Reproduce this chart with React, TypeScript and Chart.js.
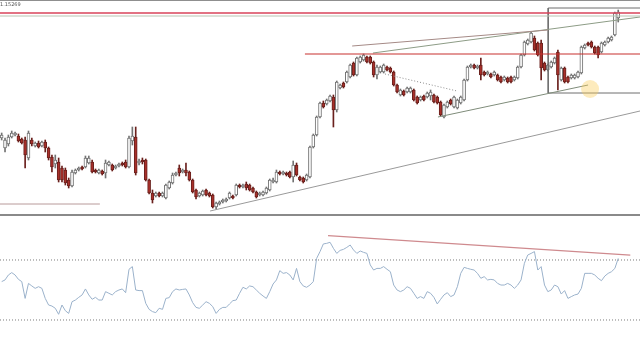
import React, { useEffect, useRef } from 'react';
import { Chart, registerables } from 'chart.js';

Chart.register(...registerables);

// Price values in pips above the pane floor (candles)
const OPEN = [
  76, 66, 70, 77, 79, 78, 75, 74, 56, 74,
  68, 71, 68, 72, 66, 57, 50, 52, 46, 44,
  34, 28, 41, 44, 47, 47, 51, 52, 44, 41,
  43, 41, 49, 49, 46, 48, 51, 52, 47, 73,
  77, 51, 54, 54, 34, 21, 18, 21, 18, 16,
  26, 31, 39, 46, 42, 44, 42, 34, 24, 18,
  19, 24, 21, 19, 7, 10, 12, 13, 16, 18,
  19, 29, 27, 30, 29, 26, 22, 19, 19, 21,
  24, 32, 32, 42, 40, 41, 42, 37, 49, 37,
  36, 34, 37, 67, 79, 97, 111, 110, 113, 117,
  104, 126, 131, 132, 137, 151, 139, 152, 154, 157,
  157, 152, 139, 142, 142, 147, 146, 142, 129, 119,
  123, 122, 122, 124, 117,
  114, 118, 117, 118, 119, 117, 112, 97, 107, 114,
  107, 106, 111, 114, 134, 147, 149, 146, 149, 142,
  140, 140, 139, 139, 137, 134, 136, 137, 134, 136,
  147, 159, 170, 172, 176, 171, 171, 151, 144, 147,
  151, 162, 134, 146, 137, 136, 136, 137, 141, 166,
  171, 172, 167, 167, 162, 169, 172, 174, 179, 196,
];
const CLOSE = [
  79, 74, 77, 81, 81, 73, 71, 59, 81, 70,
  71, 67, 72, 66, 56, 47, 54, 34, 34, 31,
  28, 42, 44, 46, 45, 56, 56, 42, 42, 44,
  40, 51, 52, 44, 48, 50, 49, 47, 76, 78,
  41, 53, 52, 34, 21, 14, 21, 18, 21, 29,
  32, 39, 41, 41, 44, 41, 34, 22, 17, 21,
  23, 19, 18, 7, 11, 12, 14, 15, 21, 16,
  29, 27, 29, 26, 24, 22, 17, 21, 22, 26,
  34, 34, 42, 40, 42, 39, 37, 49, 39, 34,
  32, 39, 67, 79, 97, 111, 107, 114, 118, 104,
  132, 129, 127, 142, 149, 139, 156, 157, 159, 152,
  151, 139, 147, 147, 149, 144, 142, 129, 122, 124,
  119, 126, 126, 114, 111,
  117, 114, 121, 122, 112, 111, 99, 109, 112, 110,
  117, 114, 117, 134, 147, 149, 146, 148, 139, 139,
  142, 137, 142, 134, 132, 137, 132, 132, 137, 147,
  159, 172, 174, 181, 164, 159, 146, 144, 149, 152,
  156, 139, 146, 132, 132, 139, 139, 142, 167, 169,
  169, 167, 161, 159, 171, 172, 176, 177, 201, 202,
];
const HIGH = [
  81, 76, 79, 83, 82, 80, 76, 77, 83, 76,
  72, 73, 73, 74, 67, 59, 59, 56, 48, 46,
  36, 44, 45, 47, 48, 58, 58, 54, 45, 45,
  44, 54, 53, 50, 49, 51, 52, 54, 78, 87,
  87, 55, 56, 55, 35, 24, 22, 22, 22, 30,
  33, 41, 42, 49, 45, 51, 43, 35, 25, 22,
  24, 25, 22, 20, 12, 13, 15, 16, 22, 19,
  30, 30, 30, 32, 30, 27, 23, 22, 23, 27,
  35, 36, 44, 43, 43, 42, 43, 53, 51, 38,
  37, 40, 68, 80, 98, 112, 113, 115, 119, 119,
  133, 130, 132, 143, 150, 152, 157, 158, 160, 158,
  158, 153, 149, 148, 150, 148, 147, 143, 130, 125,
  124, 127, 127, 125, 118,
  118, 119, 122, 124, 120, 118, 113, 110, 113, 115,
  118, 115, 118, 135, 148, 150, 150, 149, 156, 143,
  143, 141, 143, 140, 138, 138, 137, 138, 138, 148,
  160, 173, 175, 182, 178, 172, 174, 152, 150, 153,
  157, 164, 147, 147, 138, 140, 140, 143, 168, 170,
  172, 173, 168, 168, 172, 173, 177, 178, 202, 204,
];
const LOW = [
  74, 62, 68, 76, 78, 72, 70, 46, 54, 68,
  67, 66, 67, 62, 54, 42, 46, 32, 32, 29,
  26, 27, 40, 43, 44, 46, 50, 41, 41, 40,
  39, 36, 48, 43, 45, 47, 48, 46, 46, 69,
  39, 49, 50, 33, 20, 11, 17, 17, 17, 15,
  25, 30, 38, 38, 41, 38, 33, 21, 15, 17,
  18, 18, 17, 6, 5, 9, 11, 12, 15, 15,
  18, 26, 26, 24, 23, 21, 16, 18, 18, 20,
  23, 31, 31, 39, 39, 38, 36, 32, 38, 33,
  31, 33, 36, 66, 78, 96, 106, 109, 112, 87,
  102, 125, 126, 131, 136, 138, 138, 151, 153, 151,
  150, 137, 135, 141, 141, 143, 141, 128, 121, 118,
  118, 121, 121, 113, 110,
  113, 113, 116, 114, 111, 110, 98, 96, 106, 109,
  106, 105, 110, 113, 133, 146, 145, 145, 134, 138,
  139, 136, 138, 133, 131, 133, 131, 131, 133, 135,
  146, 158, 169, 171, 163, 158, 134, 143, 143, 146,
  150, 124, 133, 131, 131, 135, 135, 136, 140, 165,
  168, 166, 160, 156, 161, 168, 171, 173, 178, 192,
];
const RSI = [
  55.6, 56.7, 60.0, 61.6, 60.0, 57.1, 55.6, 44.4, 54.4, 52.7,
  51.1, 52.2, 51.1, 44.4, 40.0, 39.3, 37.8, 33.8, 40.0, 36.2,
  34.4, 42.2, 43.3, 45.1, 46.7, 50.7, 46.7, 43.8, 45.1, 43.3,
  43.3, 48.9, 47.8, 46.7, 48.9, 50.0, 50.7, 48.2, 63.8, 65.6,
  50.0, 49.6, 49.6, 41.1, 37.1, 35.6, 34.9, 37.8, 37.1, 44.4,
  44.9, 48.9, 50.7, 50.0, 50.4, 50.7, 46.7, 41.6, 38.4, 37.8,
  40.0, 42.2, 41.1, 38.9, 34.4, 37.1, 38.4, 38.4, 40.7, 42.9,
  43.3, 47.8, 51.8, 50.7, 52.7, 52.2, 50.0, 47.8, 46.0, 44.4,
  48.9, 54.0, 56.7, 62.9, 61.1, 61.6, 60.0, 56.7, 64.4, 55.6,
  52.7, 51.8, 53.3, 55.6, 71.1, 75.6,
  80.7, 81.1, 81.8, 77.8, 74.4, 76.4, 77.1, 78.4, 80.0, 76.7,
  74.4, 76.0, 75.1, 74.4, 66.7, 63.3, 64.4, 64.4, 65.6, 63.8,
  62.2, 53.3, 50.0, 48.9, 50.0, 52.2, 51.1, 47.8, 44.4, 45.6,
  44.4, 48.9, 47.8, 45.1, 40.7, 43.8, 46.7, 48.2, 45.6, 46.7,
  52.2, 61.1, 65.1, 64.4, 63.8, 63.3, 61.1, 57.8, 58.9, 56.7,
  57.1, 56.7, 54.4, 53.3, 53.3, 54.4, 53.3, 51.1, 53.3, 56.7,
  67.8, 73.3, 74.4, 75.6, 63.3, 65.6, 53.3, 48.9, 50.0, 53.3,
  52.2, 47.3, 49.6, 44.4, 45.6, 46.7, 47.3, 51.1, 61.1, 61.1,
  61.1, 60.0, 57.8, 56.2, 59.3, 61.1, 62.2, 64.4, 71.1,
];

const PRICE_LABEL = '1.15269';
const X_MIN = -0.5;
const X_MAX = 190.5;

// Drawn objects (bar index, price)
const LEVEL_TOP_RED = [{ x: X_MIN, y: 201 }, { x: X_MAX, y: 201 }];
const LEVEL_TOP_GRAY = [{ x: X_MIN, y: 198 }, { x: X_MAX, y: 198 }];
const LEVEL_MID_RED = [{ x: 90.5, y: 160 }, { x: X_MAX, y: 160 }];
const LEVEL_LOW_LEFT = [{ x: X_MIN, y: 10 }, { x: 29.3, y: 10 }];
const TREND_SUPPORT = [{ x: 62.2, y: 3 }, { x: X_MAX, y: 103 }];
const TREND_UPPER_A = [{ x: 104.6, y: 168 }, { x: 163.1, y: 184 }];
const TREND_UPPER_B = [{ x: 110.8, y: 161 }, { x: X_MAX, y: 197 }];
const TREND_LOWER = [{ x: 130.2, y: 97 }, { x: 175, y: 129 }];
const TREND_DOTTED = [{ x: 114.4, y: 140 }, { x: 135.9, y: 123 }];
const BOX = [
  { x: X_MAX, y: 206 }, { x: 163.1, y: 206 }, { x: 163.1, y: 121 }, { x: X_MAX, y: 121 },
];
const CURSOR = [{ x: 175.6, y: 125 }];

const RSI_HIGH = 70;
const RSI_LOW = 30;
const RSI_TREND = [{ x: 97.4, y: 86.2 }, { x: 187.6, y: 73.3 }];

const BULL_FILL = '#ffffff';
const BULL_LINE = '#737373';
const BEAR_FILL = '#a8302a';
const BEAR_LINE = '#6a201d';

function lineDs(data: any[], color: string, width = 1, dash: number[] = []) {
  return {
    type: 'line' as const,
    data,
    borderColor: color,
    borderWidth: width,
    borderDash: dash,
    pointRadius: 0,
    fill: false,
    tension: 0,
    order: 0,
  };
}

export default function App() {
  const mainRef = useRef<HTMLCanvasElement>(null);
  const rsiRef = useRef<HTMLCanvasElement>(null);

  useEffect(() => {
    const idx = OPEN.map((_, i) => i);
    const bull = (i: number) => CLOSE[i] >= OPEN[i];

    const main = new Chart(mainRef.current as HTMLCanvasElement, {
      type: 'bar',
      data: {
        datasets: [
          {
            type: 'bar',
            data: idx.map((i) => ({ x: i, y: [LOW[i], HIGH[i]] })) as any,
            backgroundColor: (c: any) => (bull(c.dataIndex) ? BULL_LINE : BEAR_LINE),
            borderWidth: 0,
            barThickness: 1,
            grouped: false,
            order: 3,
          } as any,
          {
            type: 'bar',
            data: idx.map((i) => ({ x: i, y: [OPEN[i], CLOSE[i]] })) as any,
            backgroundColor: (c: any) => (bull(c.dataIndex) ? BULL_FILL : BEAR_FILL),
            borderColor: (c: any) => (bull(c.dataIndex) ? BULL_LINE : BEAR_LINE),
            borderWidth: 1,
            borderSkipped: false,
            barThickness: 3,
            grouped: false,
            order: 2,
          } as any,
          lineDs(LEVEL_TOP_RED, '#d9435a', 1.5),
          lineDs(LEVEL_TOP_GRAY, '#b9c3b2', 1),
          lineDs(LEVEL_MID_RED, '#c8312f', 1.2),
          lineDs(LEVEL_LOW_LEFT, '#b89a9a', 1),
          lineDs(TREND_SUPPORT, '#9a9a9a', 1),
          lineDs(TREND_UPPER_A, '#a58a86', 1),
          lineDs(TREND_UPPER_B, '#8d9c86', 1),
          lineDs(TREND_LOWER, '#7f8c7a', 1),
          lineDs(TREND_DOTTED, '#8a8a8a', 1, [1, 2]),
          lineDs(BOX, '#6f6f6f', 1),
          {
            type: 'line',
            data: CURSOR,
            showLine: false,
            pointRadius: 9,
            pointBackgroundColor: 'rgba(250, 205, 90, 0.4)',
            pointBorderWidth: 0,
            order: -1,
          } as any,
        ],
      },
      options: {
        animation: false,
        responsive: false,
        maintainAspectRatio: false,
        layout: { padding: 0, autoPadding: false },
        plugins: { legend: { display: false }, tooltip: { enabled: false } },
        scales: {
          x: { type: 'linear', min: X_MIN, max: X_MAX, offset: false, display: false },
          y: { type: 'linear', min: 0, max: 214, display: false },
        },
      },
    });

    const rsi = new Chart(rsiRef.current as HTMLCanvasElement, {
      type: 'line',
      data: {
        datasets: [
          lineDs(RSI.map((v, i) => ({ x: i, y: v })), '#9bb2cb', 1),
          lineDs([{ x: X_MIN, y: RSI_HIGH }, { x: X_MAX, y: RSI_HIGH }], '#7c7c7c', 1, [1, 2]),
          lineDs([{ x: X_MIN, y: RSI_LOW }, { x: X_MAX, y: RSI_LOW }], '#7c7c7c', 1, [1, 2]),
          lineDs(RSI_TREND, '#cf8a8e', 1.2),
        ] as any,
      },
      options: {
        animation: false,
        responsive: false,
        maintainAspectRatio: false,
        layout: { padding: 0, autoPadding: false },
        plugins: { legend: { display: false }, tooltip: { enabled: false } },
        scales: {
          x: { type: 'linear', min: X_MIN, max: X_MAX, offset: false, display: false },
          y: { type: 'linear', min: 3.33, max: 99.33, display: false },
        },
      },
    });

    return () => {
      main.destroy();
      rsi.destroy();
    };
  }, []);

  return (
    <div
      style={{
        position: 'fixed',
        left: 0,
        top: 0,
        width: 640,
        height: 360,
        background: '#ffffff',
        overflow: 'hidden',
      }}
    >
      <canvas
        ref={mainRef}
        width={640}
        height={214}
        style={{ position: 'absolute', left: 0, top: 0, width: 640, height: 214 }}
      />
      <div style={{ position: 'absolute', left: 0, top: 0, width: 640, height: 1, background: '#8f8f8f' }} />
      <div
        style={{
          position: 'absolute',
          left: 0,
          top: 1,
          fontFamily: 'DejaVu Sans, sans-serif',
          fontSize: 5,
          lineHeight: '6px',
          color: '#555',
        }}
      >
        {PRICE_LABEL}
      </div>
      <div style={{ position: 'absolute', left: 0, top: 214, width: 640, height: 2, background: '#8a8a8a' }} />
      <canvas
        ref={rsiRef}
        width={640}
        height={144}
        style={{ position: 'absolute', left: 0, top: 216, width: 640, height: 144 }}
      />
    </div>
  );
}
